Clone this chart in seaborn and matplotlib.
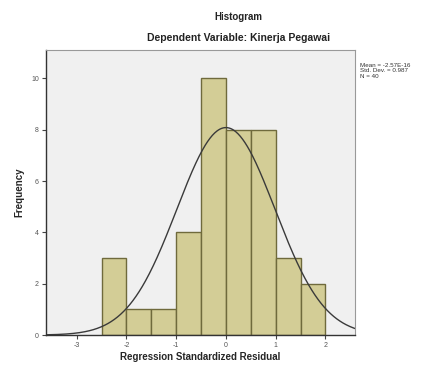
import numpy as np
import pandas as pd
import matplotlib
matplotlib.use("Agg")
import matplotlib.pyplot as plt
import seaborn as sns

# Histogram bins of the standardized residuals (width 0.5)
bin_edges = [-2.5, -2.0, -1.5, -1.0, -0.5, 0.0, 0.5, 1.0, 1.5, 2.0]
frequencies = [3, 1, 1, 4, 10, 8, 8, 3, 2]

# Summary statistics of the residuals
resid_mean = -2.57e-16
resid_sd = 0.987
n_obs = 40

x_ticks = [-3, -2, -1, 0, 1, 2]
y_ticks = [0, 2, 4, 6, 8, 10]

bin_centers = [(a + b) / 2 for a, b in zip(bin_edges[:-1], bin_edges[1:])]
df = pd.DataFrame({"resid": bin_centers, "count": frequencies})

sns.set_style("white")
plt.rcParams["font.family"] = ["Liberation Sans", "DejaVu Sans"]

fig = plt.figure(figsize=(4.29, 3.69), dpi=100)
ax = fig.add_axes([0.107, 0.092, 0.721, 0.772])
ax.set_facecolor("#f0f0f0")

sns.histplot(data=df, x="resid", weights="count", bins=bin_edges,
             color="#d3cd96", edgecolor="#6f6a3c", linewidth=1.0,
             alpha=1.0, ax=ax)

# Normal curve scaled to the histogram counts
bw = bin_edges[1] - bin_edges[0]
xs = np.linspace(-3.62, 2.62, 400)
pdf = np.exp(-0.5 * ((xs - resid_mean) / resid_sd) ** 2) / (resid_sd * np.sqrt(2 * np.pi))
ax.plot(xs, n_obs * bw * pdf, color="#3a3a3a", linewidth=1.0)

ax.set_xlim(-3.62, 2.6)
ax.set_ylim(0, 11.1)
ax.set_xticks(x_ticks)
ax.set_yticks(y_ticks)
ax.set_xticklabels([str(t) for t in x_ticks], fontsize=5, color="#555555")
ax.set_yticklabels([str(t) for t in y_ticks], fontsize=5, color="#555555")
ax.tick_params(axis="both", direction="out", length=3, width=0.8,
               color="#444444", pad=2)
ax.tick_params(axis="both", which="both", bottom=True, left=True)

for side in ["top", "right"]:
    ax.spines[side].set_color("#999999")
    ax.spines[side].set_linewidth(0.8)
for side in ["left", "bottom"]:
    ax.spines[side].set_color("#333333")
    ax.spines[side].set_linewidth(1.0)

ax.set_xlabel("Regression Standardized Residual", fontsize=7, fontweight="bold",
              labelpad=2)
ax.set_ylabel("Frequency", fontsize=7, fontweight="bold", labelpad=5)

fig.text(0.555, 0.955, "Histogram", ha="center", va="center",
         fontsize=7, fontweight="bold", color="#222222")
fig.text(0.555, 0.898, "Dependent Variable: Kinerja Pegawai", ha="center",
         va="center", fontsize=7.5, fontweight="bold", color="#222222")

stats = f"Mean = {resid_mean:.2E}\nStd. Dev. = {resid_sd:.3f}\nN = {n_obs}"
fig.text(0.84, 0.83, stats, ha="left", va="top", fontsize=4.5,
         color="#333333", linespacing=1.15)

fig.savefig("out.png", dpi=100)
